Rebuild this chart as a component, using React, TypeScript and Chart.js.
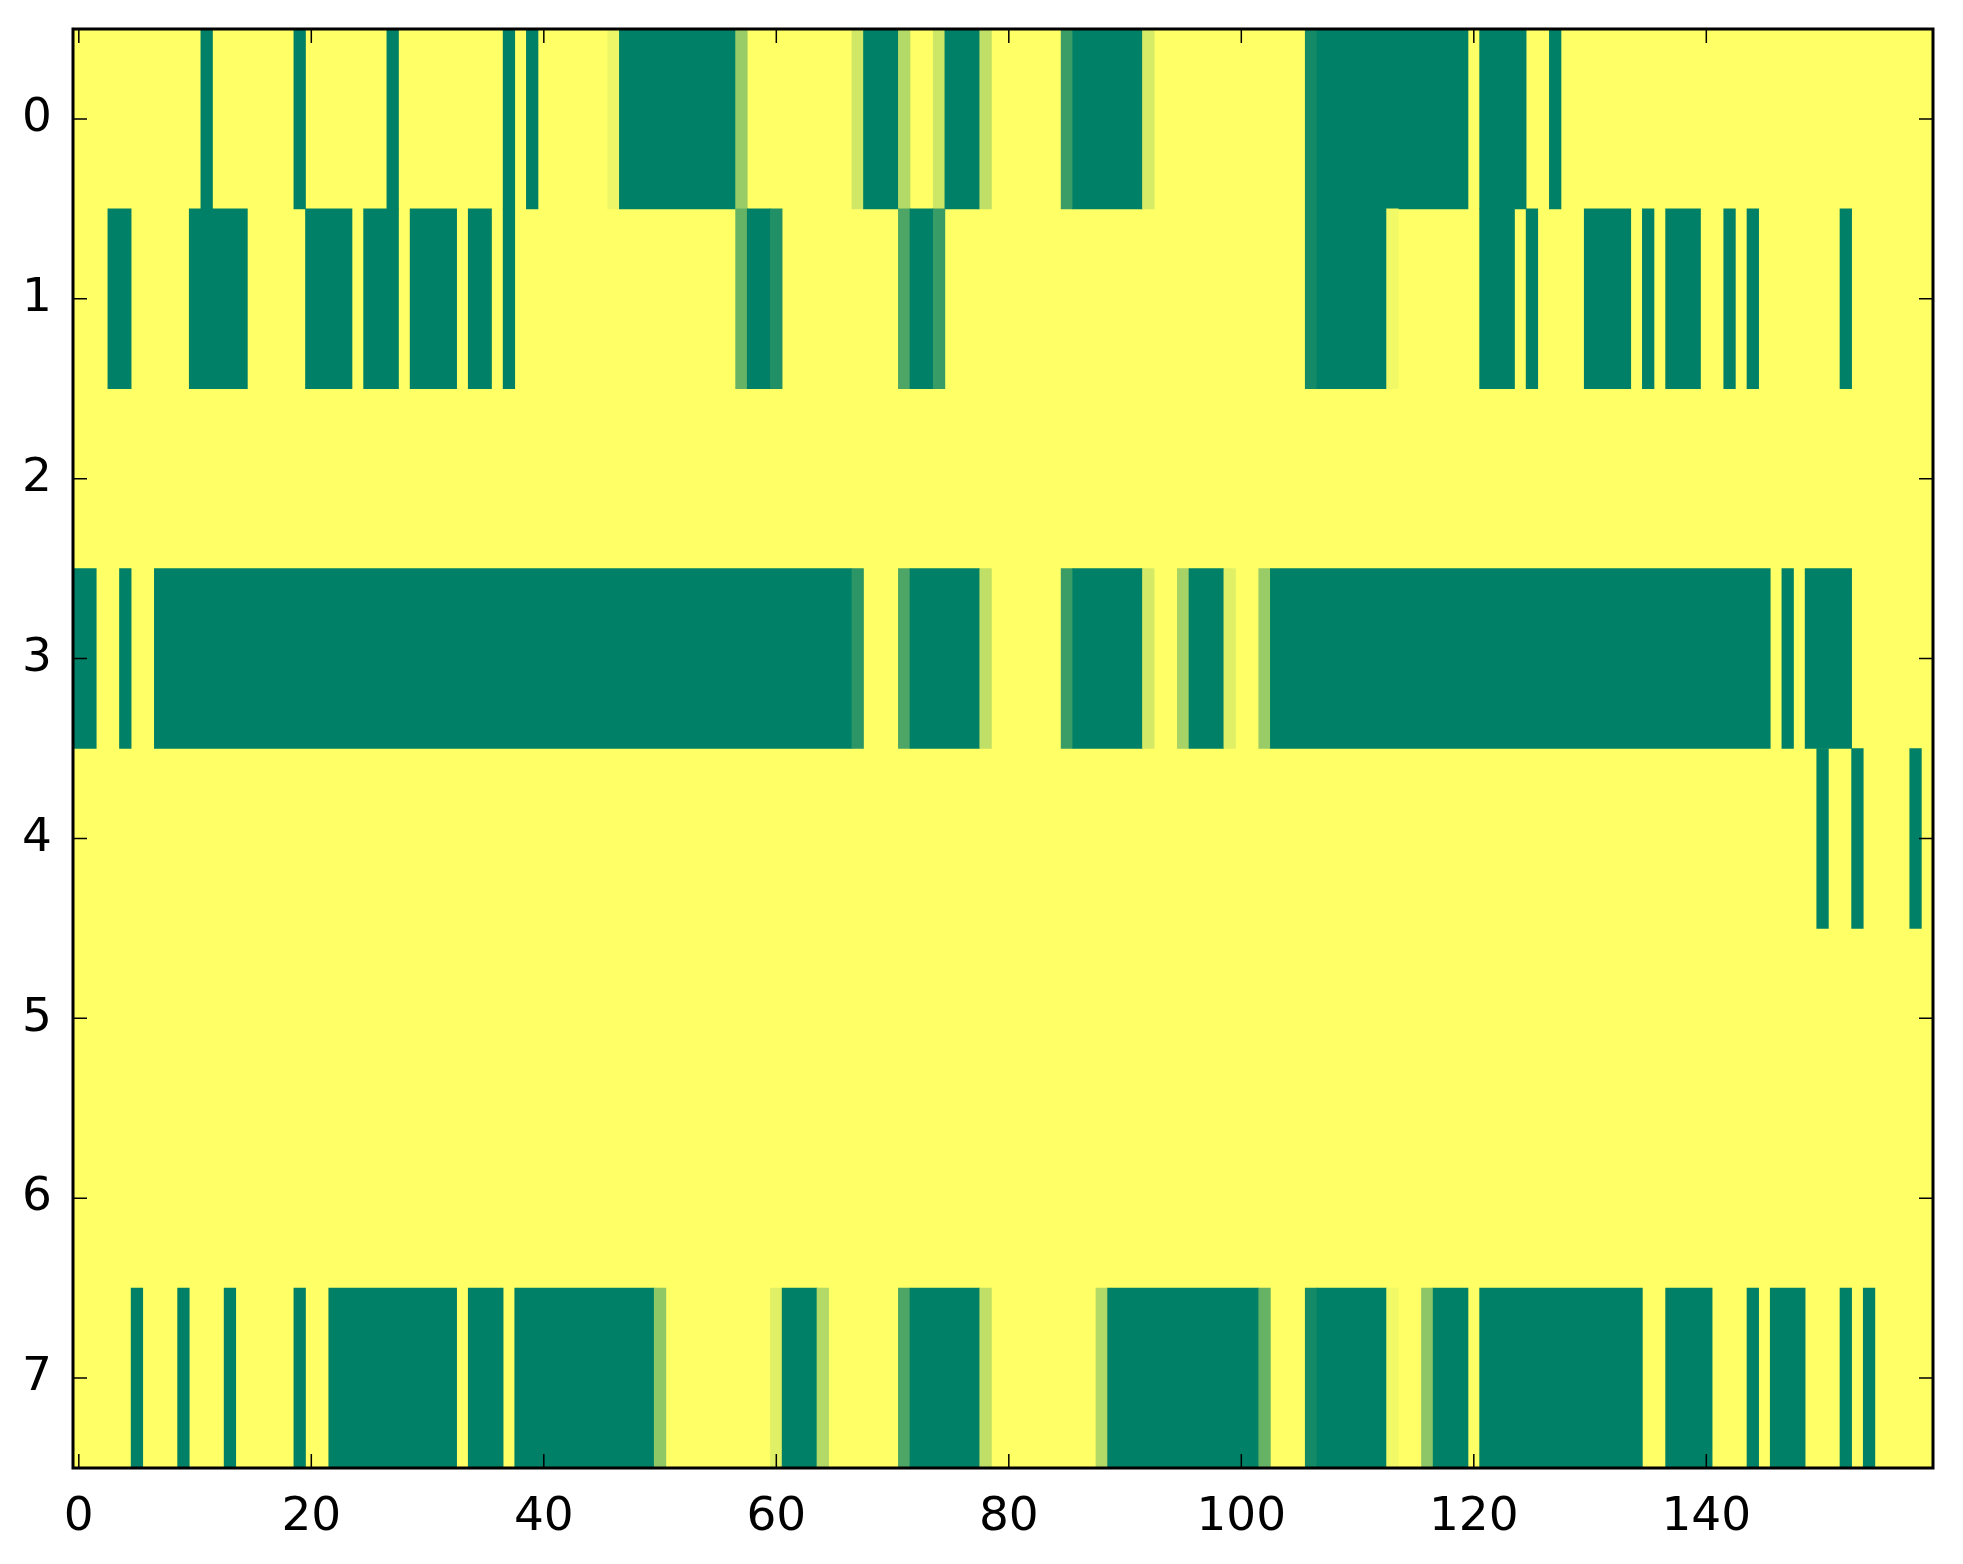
import { useEffect, useRef } from 'react';
import { Chart, registerables } from 'chart.js';

Chart.register(...registerables);

// image is 8 rows x 160 columns, values 0 (green) .. 1 (yellow)
const rowLabels = ['0', '1', '2', '3', '4', '5', '6', '7'];
const columnCount = 160;
const xTicks = [0, 20, 40, 60, 80, 100, 120, 140];

// [firstColumn, lastColumn, value]; every cell not listed is 1
const row0 = [
  [11, 11, 0], [19, 19, 0], [27, 27, 0], [37, 37, 0], [39, 39, 0], [46, 46, 0.93],
  [47, 56, 0], [57, 57, 0.6], [67, 67, 0.82], [68, 70, 0], [71, 71, 0.7], [74, 74, 0.8],
  [75, 77, 0], [78, 78, 0.75], [85, 85, 0.23], [86, 91, 0], [92, 92, 0.84], [106, 106, 0.08],
  [107, 119, 0], [121, 124, 0], [127, 127, 0],
];
const row1 = [
  [3, 4, 0], [10, 14, 0], [20, 23, 0], [25, 27, 0], [29, 32, 0], [34, 35, 0], [37, 37, 0],
  [57, 57, 0.4], [58, 59, 0], [60, 60, 0.13], [71, 71, 0.3], [72, 73, 0], [74, 74, 0.22],
  [106, 106, 0.08], [107, 112, 0], [113, 113, 0.95], [121, 123, 0], [125, 125, 0],
  [130, 133, 0], [135, 135, 0], [137, 139, 0], [142, 142, 0], [144, 144, 0], [152, 152, 0],
];
const row2: number[][] = [];
const row3 = [
  [0, 1, 0], [4, 4, 0], [7, 66, 0], [67, 67, 0.17], [71, 71, 0.3], [72, 77, 0],
  [78, 78, 0.75], [85, 85, 0.23], [86, 91, 0], [92, 92, 0.83], [95, 95, 0.65], [96, 98, 0],
  [99, 99, 0.88], [102, 102, 0.6], [103, 145, 0], [147, 147, 0], [149, 152, 0],
];
const row4 = [[150, 150, 0], [153, 153, 0], [158, 158, 0]];
const row5: number[][] = [];
const row6: number[][] = [];
const row7 = [
  [5, 5, 0], [9, 9, 0], [13, 13, 0], [19, 19, 0], [22, 32, 0], [34, 36, 0], [38, 49, 0],
  [50, 50, 0.57], [60, 60, 0.88], [61, 63, 0], [64, 64, 0.7], [71, 71, 0.3], [72, 77, 0],
  [78, 78, 0.75], [88, 88, 0.7], [89, 101, 0], [102, 102, 0.4], [106, 106, 0.08],
  [107, 112, 0], [113, 113, 0.95], [116, 116, 0.55], [117, 119, 0], [121, 134, 0],
  [137, 140, 0], [144, 144, 0], [146, 148, 0], [152, 152, 0], [154, 154, 0],
];
const rows = [row0, row1, row2, row3, row4, row5, row6, row7];

// matplotlib 'summer' colormap
function summer(v: number) {
  const r = Math.round(255 * v);
  const g = Math.round(255 * (0.5 + 0.5 * v));
  return `rgb(${r},${g},102)`;
}

const tickFont = { family: 'DejaVu Sans', size: 47 };

const framePlugin = {
  id: 'frame',
  beforeDatasetsDraw(chart: Chart) {
    const { ctx, chartArea: a } = chart;
    ctx.save();
    ctx.fillStyle = summer(1);
    ctx.fillRect(a.left, a.top, a.right - a.left, a.bottom - a.top);
    ctx.restore();
  },
  afterDraw(chart: Chart) {
    const { ctx, chartArea: a } = chart;
    const xs = chart.scales.x;
    const ys = chart.scales.y;
    const len = 14;
    ctx.save();
    ctx.strokeStyle = '#000';
    ctx.lineWidth = 1.5;
    ctx.beginPath();
    xTicks.forEach((v) => {
      const px = xs.getPixelForValue(v);
      ctx.moveTo(px, a.bottom);
      ctx.lineTo(px, a.bottom - len);
      ctx.moveTo(px, a.top);
      ctx.lineTo(px, a.top + len);
    });
    rowLabels.forEach((_, i) => {
      const py = ys.getPixelForValue(i);
      ctx.moveTo(a.left, py);
      ctx.lineTo(a.left + len, py);
      ctx.moveTo(a.right, py);
      ctx.lineTo(a.right - len, py);
    });
    ctx.stroke();
    ctx.lineWidth = 3;
    ctx.strokeRect(a.left, a.top, a.right - a.left, a.bottom - a.top);
    ctx.restore();
  },
};

export default function App() {
  const chartRef = useRef<HTMLCanvasElement>(null);
  const chartInstance = useRef<Chart | null>(null);

  useEffect(() => {
    if (!chartRef.current) return;
    if (chartInstance.current) chartInstance.current.destroy();

    const cells = rows.flatMap((runs, r) =>
      runs.map(([a, b, v]) => ({ x: [a - 0.5, b + 0.5], y: rowLabels[r], v }))
    );

    chartInstance.current = new Chart(chartRef.current, {
      type: 'bar',
      data: {
        labels: rowLabels,
        datasets: [
          {
            data: cells as any,
            backgroundColor: (c: any) => summer(c.raw ? c.raw.v : 1),
            borderWidth: 0,
            barPercentage: 1,
            categoryPercentage: 1,
          },
        ],
      },
      options: {
        indexAxis: 'y',
        animation: false,
        responsive: true,
        maintainAspectRatio: false,
        layout: { padding: { top: 29, right: 30, left: 0, bottom: 0 } },
        plugins: { legend: { display: false }, tooltip: { enabled: false } },
        scales: {
          x: {
            type: 'linear',
            min: -0.5,
            max: columnCount - 0.5,
            afterBuildTicks: (axis: any) => {
              axis.ticks = xTicks.map((value) => ({ value }));
            },
            afterFit: (axis: any) => {
              axis.height = 96;
              axis.paddingLeft = 0;
              axis.paddingRight = 0;
            },
            grid: { display: false },
            border: { display: false },
            ticks: { font: tickFont, color: '#000', padding: 14, maxRotation: 0, autoSkip: false },
          },
          y: {
            type: 'category',
            labels: rowLabels,
            offset: true,
            afterFit: (axis: any) => {
              axis.width = 73;
              axis.paddingTop = 0;
              axis.paddingBottom = 0;
            },
            grid: { display: false },
            border: { display: false },
            ticks: { font: tickFont, color: '#000', padding: 13 },
          },
        },
      },
      plugins: [framePlugin],
    });

    return () => {
      if (chartInstance.current) {
        chartInstance.current.destroy();
        chartInstance.current = null;
      }
    };
  }, []);

  return (
    <div style={{ position: 'absolute', left: 0, top: 0, width: 1963, height: 1564, background: '#fff' }}>
      <canvas ref={chartRef}></canvas>
    </div>
  );
}
